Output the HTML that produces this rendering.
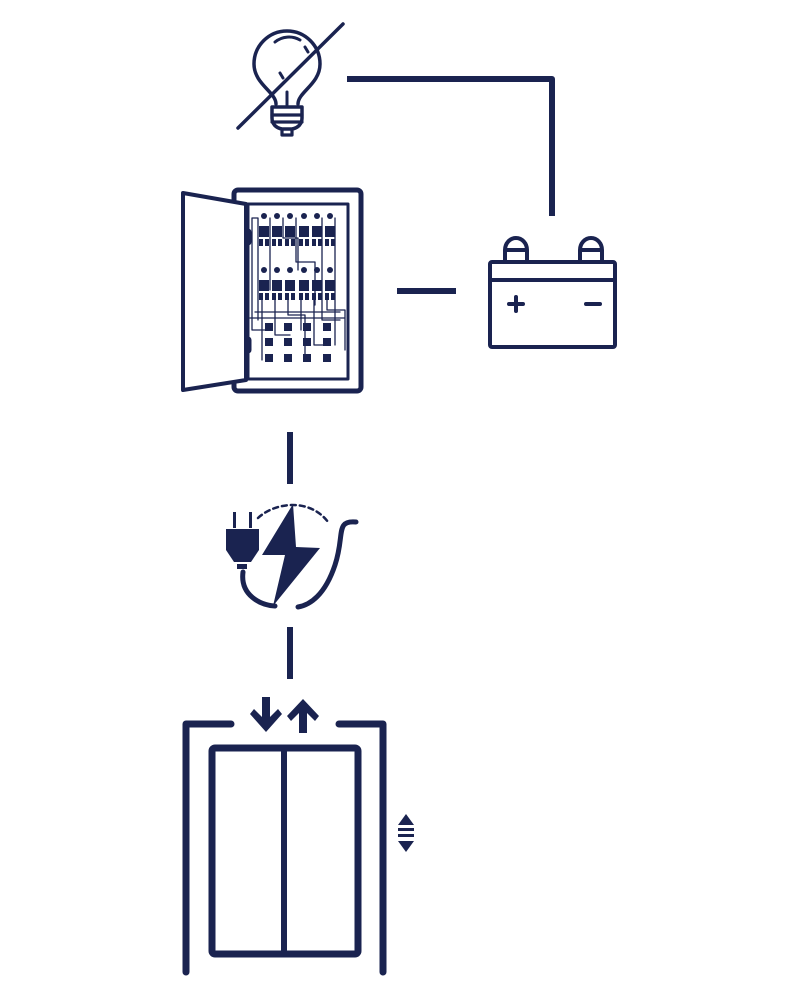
<!DOCTYPE html>
<html><head><style>html,body{margin:0;padding:0;background:#fff}svg{display:block}</style></head>
<body>
<svg width="800" height="1000" viewBox="0 0 800 1000" xmlns="http://www.w3.org/2000/svg">
<g fill="none" stroke="#1a2350" stroke-linecap="round" stroke-linejoin="round">
<!-- bulb -->
<path d="M276,104 C276,92 254,84 254,64 A33,33 0 1 1 320,64 C320,84 298,92 298,104" stroke-width="3.5"/>
<path d="M272,107 H302 V118 C302,124 298,128 292,129 H282 C276,128 272,124 272,118 Z" stroke-width="3.5"/>
<path d="M272,115 H302 M272,122 H302 M282,130 V135 H292 V130" stroke-width="3.2"/>
<path d="M287,92 V105 M275,42 A22,22 0 0 1 300,40 M280,73 L283,78 M305,47 L308,52" stroke-width="3"/>
<path d="M238,128 L343,24" stroke-width="3.5"/>
<!-- connector -->
<path d="M347,79 H552 V216" stroke-width="6" stroke-linecap="butt"/>
<!-- battery -->
<rect x="490" y="262" width="125" height="85" rx="2" stroke-width="4"/>
<path d="M490,280 H615" stroke-width="4"/>
<path d="M505,262 V250 H527 V262 M505,250 A11,12 0 0 1 527,250" stroke-width="4"/>
<path d="M580,262 V250 H602 V262 M580,250 A11,12 0 0 1 602,250" stroke-width="4"/>
<path d="M509,304 H523 M516,297 V311 M586,304 H600" stroke-width="4"/>
<path d="M397,291 H456" stroke-width="6" stroke-linecap="butt"/>
<!-- panel -->
<rect x="234" y="190" width="127" height="201" rx="4" stroke-width="5"/>
<rect x="248" y="204" width="100" height="175" stroke-width="3"/>
<path d="M183,193 L246,204 V380 L183,390 Z" stroke-width="4" fill="#fff"/>
<path d="M248,232 V242 M248,340 V350" stroke-width="7"/>
<g stroke-width="1.3">
<path d="M252,218 H258 V320 M252,218 V330 H268 M270,218 V290 M296,218 V262 H315 V305 M283,218 V238 H298 V270 M322,218 V320 H340 M335,218 V345 M262,300 V360 M275,300 V335 H290 M288,300 V315 H305 V355 M301,300 V330 M314,300 V345 H330 M327,300 V310 H345 V350 M250,318 H345 M255,312 H340"/>
</g>
</g>
<g fill="#1a2350">
<g id="r1">
<circle cx="264" cy="216" r="3"/><circle cx="277" cy="216" r="3"/><circle cx="290" cy="216" r="3"/><circle cx="304" cy="216" r="3"/><circle cx="317" cy="216" r="3"/><circle cx="330" cy="216" r="3"/>
<rect x="259" y="226" width="10" height="11"/><rect x="272" y="226" width="10" height="11"/><rect x="285" y="226" width="10" height="11"/><rect x="299" y="226" width="10" height="11"/><rect x="312" y="226" width="10" height="11"/><rect x="325" y="226" width="10" height="11"/>
<rect x="259" y="239" width="4" height="7"/><rect x="265" y="239" width="4" height="7"/><rect x="272" y="239" width="4" height="7"/><rect x="278" y="239" width="4" height="7"/><rect x="285" y="239" width="4" height="7"/><rect x="291" y="239" width="4" height="7"/><rect x="299" y="239" width="4" height="7"/><rect x="305" y="239" width="4" height="7"/><rect x="312" y="239" width="4" height="7"/><rect x="318" y="239" width="4" height="7"/><rect x="325" y="239" width="4" height="7"/><rect x="331" y="239" width="4" height="7"/>
</g>
<use href="#r1" y="54"/>
<rect x="265" y="323" width="8" height="8"/><rect x="284" y="323" width="8" height="8"/><rect x="303" y="323" width="8" height="8"/><rect x="323" y="323" width="8" height="8"/>
<rect x="265" y="338" width="8" height="8"/><rect x="284" y="338" width="8" height="8"/><rect x="303" y="338" width="8" height="8"/><rect x="323" y="338" width="8" height="8"/>
<rect x="265" y="354" width="8" height="8"/><rect x="284" y="354" width="8" height="8"/><rect x="303" y="354" width="8" height="8"/><rect x="323" y="354" width="8" height="8"/>
<!-- plug -->
<rect x="233" y="512" width="3" height="16"/><rect x="249" y="512" width="3" height="16"/>
<path d="M226,529 H259 V550 L251,562 H234 L226,550 Z"/>
<rect x="237" y="564" width="10" height="5"/>
<path d="M293,504 L262,555 L285,555 L273,606 L320,548 L296,547 Z"/>
<!-- elevator arrows -->
<path d="M262,697 H270 V717 L278,709 L282,714 L266,732 L250,714 L254,709 L262,717 Z"/>
<path d="M299,733 H307 V713 L315,721 L319,716 L303,699 L287,716 L291,721 L299,713 Z"/>
<path d="M406,814 L398,825 H414 Z M406,852 L398,841 H414 Z"/>
<rect x="398" y="828" width="16" height="3"/><rect x="398" y="834" width="16" height="3"/>
</g>
<g fill="none" stroke="#1a2350" stroke-linecap="round">
<path d="M243,572 C240,595 260,605 275,606" stroke-width="5"/>
<path d="M356,522 C335,520 345,535 335,565 C325,595 310,605 298,607" stroke-width="5"/>
<path d="M258,518 C275,502 310,498 328,522" stroke-width="2.5" stroke-dasharray="5,4"/>
<path d="M290,432 V484 M290,627 V679" stroke-width="6" stroke-linecap="butt"/>
<path d="M186,972 V724 H231 M339,724 H383 V972" stroke-width="7" stroke-linejoin="round"/>
<rect x="212" y="748" width="146" height="206" rx="3" stroke-width="7"/>
<path d="M284,748 V954" stroke-width="6"/>
</g>
</svg>
</body></html>
